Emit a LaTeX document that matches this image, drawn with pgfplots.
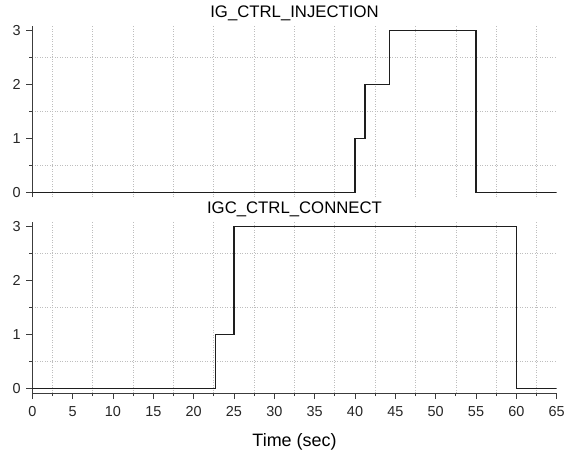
\documentclass[border=0pt]{standalone}
\usepackage{fontspec}
\setmainfont{Liberation Sans}
\usepackage{pgfplots}
\pgfplotsset{compat=1.18}
\definecolor{sig}{RGB}{30,30,30}
\definecolor{axc}{RGB}{60,60,60}
\definecolor{gridc}{RGB}{190,190,190}

\pgfplotsset{panel/.style={
  scale only axis, width=524.4bp, height=171bp,
  xmin=0, xmax=65, ymin=-0.09, ymax=3.09,
  xtick={0,5,...,65}, minor x tick num=1,
  ytick={0,1,2,3}, minor y tick num=1,
  grid=minor,
  minor grid style={gridc, line width=0.7bp, dash pattern=on 1bp off 1.5bp},
  axis y line*=left,
  tick align=outside,
  major tick length=6bp, minor tick length=3bp,
  every tick/.style={axc, line width=0.8bp},
  y axis line style={axc, line width=1bp},
  tick label style={font=\fontsize{14.5}{16}\selectfont, text=black!85},
  xticklabel style={yshift=-4bp},
  yticklabel style={xshift=-2bp},
  /pgf/number format/assume math mode=true,
  title style={font=\fontsize{16.8}{18}\selectfont, at={(0.5,1)}, anchor=base, yshift=2.5bp},
}}

\begin{document}
\begin{tikzpicture}
\useasboundingbox (0,0) rectangle (566bp,-450bp);

% upper panel
\begin{axis}[panel,
  at={(32.3bp,-197bp)}, anchor=south west,
  title={IG\_CTRL\_INJECTION},
  axis x line*=bottom,
  x axis line style={draw=none},
  xtick style={draw=none},
  xticklabels={},
]
\addplot[const plot, sig, line width=1.2bp] coordinates {
  (0,0) (40,1) (41.25,2) (44.3,3) (55,0) (65,0)
};
\end{axis}

% lower panel
\begin{axis}[panel,
  at={(32.3bp,-393bp)}, anchor=south west,
  title={IGC\_CTRL\_CONNECT},
  axis x line*=bottom,
  x axis line style={axc, line width=1bp},
  xlabel={Time (sec)},
  xlabel style={font=\fontsize{18}{20}\selectfont, at={(axis description cs:0.5,0)}, anchor=base, yshift=-53.7bp},
]
\addplot[const plot, sig, line width=1.2bp] coordinates {
  (0,0) (22.75,1) (25,3) (60,0) (65,0)
};
\end{axis}
\end{tikzpicture}
\end{document}
